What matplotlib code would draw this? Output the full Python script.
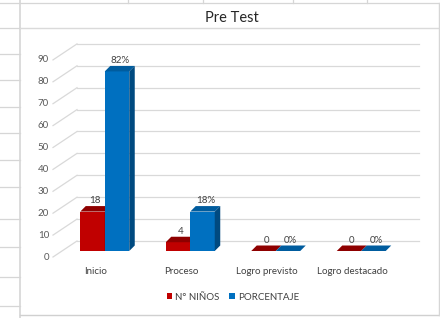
import matplotlib.pyplot as plt
from matplotlib.patches import Polygon, Rectangle, Patch

# ---------------- data ----------------
categories = ["Inicio", "Proceso", "Logro previsto", "Logro destacado"]
ninos = [18, 4, 0, 0]
porcentaje = [82, 18, 0, 0]
ninos_labels = ["18", "4", "0", "0"]
porc_labels = ["82%", "18%", "0%", "0%"]
yticks = list(range(0, 100, 10))
title = "Pre Test"
series_names = ["N° NIÑOS", "PORCENTAJE"]

plt.rcParams['font.family'] = ['Lato', 'DejaVu Sans']

W, H = 440, 318
fig = plt.figure(figsize=(W / 100, H / 100), dpi=100)

# ---------------- spreadsheet background ----------------
bg = fig.add_axes([0, 0, 1, 1])
bg.set_xlim(0, W)
bg.set_ylim(H, 0)
bg.axis('off')
gc = '#D6D6D6'
lw = 0.9
bg.plot([0, W], [2.5, 2.5], color=gc, lw=lw)
for xv in [128, 203, 293, 367]:
    bg.plot([xv, xv], [0, 2.5], color=gc, lw=lw)
bg.plot([20, 20], [0, H], color=gc, lw=1.2)
for yv in [28, 54, 80, 107, 133, 160, 187, 219, 247, 277, 306]:
    bg.plot([0, 20], [yv, yv], color=gc, lw=lw)
bg.plot([20, W], [27.5, 27.5], color='#DADADA', lw=1.0)
bg.plot([20, W], [315, 315], color='#D0D0D0', lw=1.0)
bg.plot([438.5, 438.5], [2.5, 315], color='#D6D6D6', lw=1.0)

# title
bg.text(232, 18, title, ha='center', va='center', fontsize=10.5, color='#262626')

# ---------------- main axes (front plane of bars) ----------------
PX = 342 / 4.0      # pixels per category unit
PY = 2.19           # pixels per value unit
y0_pix = 251
ytop = 90
ax = fig.add_axes([62 / W, (H - y0_pix) / H, 342 / W, ytop * PY / H])
ax.set_xlim(-0.5, 3.5)
ax.set_ylim(0, ytop)
ax.axis('off')

bar_w = 24.5 / PX
ddx, ddy = 5.5 / PX, 5.5 / PY          # bar depth
bdx, bdy = 15 / PX, 10 / PY            # back wall offset
fdx, fdy = -9 / PX, -6 / PY            # front floor offset

grid_c = '#D9D9D9'
for v in yticks:
    ax.plot([-0.5 + bdx, 3.5 + bdx], [v + bdy, v + bdy], color=grid_c, lw=0.9,
            clip_on=False, zorder=1)
    ax.plot([-0.5 + fdx, -0.5 + bdx], [v + fdy, v + bdy], color=grid_c, lw=0.9,
            clip_on=False, zorder=1)
    ax.text(-0.5 + fdx - 4 / PX, v + fdy, str(v), ha='right', va='center',
            fontsize=7, color='#595959', clip_on=False)


def bar3d(x0, v, face, top, side):
    ax.add_patch(Rectangle((x0, 0), bar_w, v, fc=face, ec='none', zorder=3))
    ax.add_patch(Polygon([(x0, v), (x0 + bar_w, v), (x0 + bar_w + ddx, v + ddy),
                          (x0 + ddx, v + ddy)], closed=True, fc=top, ec='none',
                         zorder=3, clip_on=False))
    ax.add_patch(Polygon([(x0 + bar_w, 0), (x0 + bar_w + ddx, ddy),
                          (x0 + bar_w + ddx, v + ddy), (x0 + bar_w, v)],
                         closed=True, fc=side, ec='none', zorder=3, clip_on=False))


red, red_top, red_side = '#C00000', '#8E0000', '#7A0000'
blue, blue_top, blue_side = '#0070C0', '#005C9E', '#004A80'

for i, cat in enumerate(categories):
    xr = i - bar_w
    xb = i
    bar3d(xr, ninos[i], red, red_top, red_side)
    bar3d(xb, porcentaje[i], blue, blue_top, blue_side)
    ax.text(xr + bar_w / 2 + ddx / 2, ninos[i] + ddy + 0.3, ninos_labels[i],
            ha='center', va='bottom', fontsize=7, color='#404040', zorder=5,
            clip_on=False)
    ax.text(xb + bar_w / 2 + ddx / 2, porcentaje[i] + ddy + 0.3, porc_labels[i],
            ha='center', va='bottom', fontsize=7, color='#404040', zorder=5,
            clip_on=False)
    ax.text(i + fdx, (y0_pix - 271) / PY, cat, ha='center', va='center',
            fontsize=7, color='#404040', clip_on=False)

handles = [Patch(facecolor=red, edgecolor='none'),
           Patch(facecolor=blue, edgecolor='none')]
fig.legend(handles, series_names, loc='center', bbox_to_anchor=(233 / W, (H - 297) / H),
           ncol=2, frameon=False, fontsize=7, handlelength=0.6, handleheight=0.6,
           handletextpad=0.3, columnspacing=1.0, labelcolor='#404040')

fig.savefig('out.png', dpi=100)
